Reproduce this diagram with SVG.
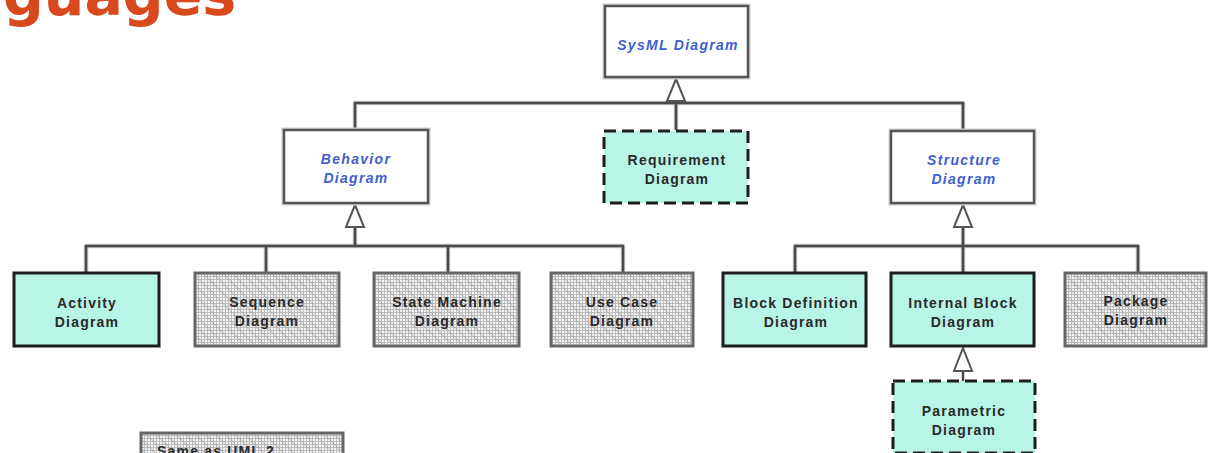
<svg xmlns="http://www.w3.org/2000/svg" width="1209" height="453" viewBox="0 0 1209 453">
  <defs>
    <style>
      .title { font-family: "DejaVu Sans", Verdana, sans-serif; font-weight: bold; font-size: 57px; fill: #d9491e; }
      .lbl { font-family: "Liberation Sans", Arial, sans-serif; font-weight: bold; font-size: 14px; letter-spacing: 1.2px; fill: #2a2a2a; text-anchor: middle; }
      .abs { font-family: "Liberation Sans", Arial, sans-serif; font-weight: bold; font-style: italic; font-size: 14px; letter-spacing: 1.3px; fill: #3f5fd0; text-anchor: middle; }
      .box-abstract { fill: #ffffff; stroke: #555555; stroke-width: 2.5; }
      .box-solid { fill: #b9f5e6; stroke: #1e1e1e; stroke-width: 3; }
      .box-dashed { fill: #b9f5e6; stroke: #1e1e1e; stroke-width: 3; stroke-dasharray: 12 6; }
      .box-uml { fill: url(#grid); stroke: #666666; stroke-width: 3; }
      .box-uml-diag { fill: url(#diag); stroke: none; }
      .halo { fill: none; stroke: #cfcfcf; stroke-width: 5; }
      .wire { fill: none; stroke: #4a4a4a; stroke-width: 2.5; stroke-linejoin: round; }
      .wire-halo { fill: none; stroke: #c8c8c8; stroke-width: 4.5; stroke-linejoin: round; }
      .gen { fill: #ffffff; stroke: #555555; stroke-width: 2; stroke-linejoin: miter; }
    </style>
    <!-- grey dotted grid used for the diagram kinds inherited from UML 2 -->
    <pattern id="grid" width="3" height="3" patternUnits="userSpaceOnUse">
      <rect width="3" height="3" fill="#f6f6f6"/>
      <rect width="3" height="1" fill="#bcbcbc"/>
      <rect width="1" height="3" fill="#bcbcbc"/>
    </pattern>
    <pattern id="diag" width="7" height="7" patternUnits="userSpaceOnUse" patternTransform="rotate(45)">
      <rect width="7" height="1.5" fill="#8a8a8a" opacity="0.3"/>
    </pattern>
  </defs>

  <rect width="1209" height="453" fill="#ffffff"/>

  <text class="title" x="3" y="15">guages</text>

  <!-- connectors: generalization buses and hollow triangle heads -->
  <g id="connectors">
    <path class="wire-halo" d="M355 130 V103 H963 V131 M676 100 V130"/>
    <path class="wire" d="M355 130 V103 H963 V131 M676 100 V130"/>
    <path class="wire-halo" d="M86 272 V246 H623 V272 M266 246 V272 M448 246 V272 M355 228 V246"/>
    <path class="wire" d="M86 272 V246 H623 V272 M266 246 V272 M448 246 V272 M355 228 V246"/>
    <path class="wire-halo" d="M795 272 V246 H1138 V272 M963 228 V272"/>
    <path class="wire" d="M795 272 V246 H1138 V272 M963 228 V272"/>
    <path class="wire" d="M963 372 V381"/>
    <polygon class="gen" points="676,79 685,101 667,101"/>
    <polygon class="gen" points="355,205 364,227 346,227"/>
    <polygon class="gen" points="963,205 972,227 954,227"/>
    <polygon class="gen" points="963,348 972,371 954,371"/>
  </g>

  <g id="sysml-diagram">
    <rect class="halo" x="605" y="6" width="143" height="71"/>
    <rect class="box-abstract" x="605" y="6" width="143" height="71"/>
    <text class="abs" x="678" y="50">SysML Diagram</text>
  </g>

  <g id="behavior-diagram">
    <rect class="halo" x="284" y="130" width="144" height="73"/>
    <rect class="box-abstract" x="284" y="130" width="144" height="73"/>
    <text class="abs" x="356" y="164">Behavior</text>
    <text class="abs" x="356" y="183">Diagram</text>
  </g>

  <g id="requirement-diagram">
    <rect class="box-dashed" x="604" y="131" width="144" height="72"/>
    <text class="lbl" x="677" y="165">Requirement</text>
    <text class="lbl" x="677" y="184">Diagram</text>
  </g>

  <g id="structure-diagram">
    <rect class="halo" x="891" y="131" width="143" height="72"/>
    <rect class="box-abstract" x="891" y="131" width="143" height="72"/>
    <text class="abs" x="964" y="165">Structure</text>
    <text class="abs" x="964" y="184">Diagram</text>
  </g>

  <g id="activity-diagram">
    <rect class="box-solid" x="14" y="273" width="145" height="73"/>
    <text class="lbl" x="87" y="308">Activity</text>
    <text class="lbl" x="87" y="327">Diagram</text>
  </g>

  <g id="sequence-diagram">
    <rect class="box-uml" x="195" y="273" width="144" height="73"/>
    <rect class="box-uml-diag" x="197" y="275" width="140" height="69"/>
    <text class="lbl" x="267" y="307">Sequence</text>
    <text class="lbl" x="267" y="326">Diagram</text>
  </g>

  <g id="state-machine-diagram">
    <rect class="box-uml" x="374" y="273" width="145" height="73"/>
    <rect class="box-uml-diag" x="376" y="275" width="141" height="69"/>
    <text class="lbl" x="447" y="307">State Machine</text>
    <text class="lbl" x="447" y="326">Diagram</text>
  </g>

  <g id="use-case-diagram">
    <rect class="box-uml" x="551" y="273" width="142" height="73"/>
    <rect class="box-uml-diag" x="553" y="275" width="138" height="69"/>
    <text class="lbl" x="622" y="307">Use Case</text>
    <text class="lbl" x="622" y="326">Diagram</text>
  </g>

  <g id="block-definition-diagram">
    <rect class="box-solid" x="723" y="273" width="143" height="73"/>
    <text class="lbl" x="796" y="308">Block Definition</text>
    <text class="lbl" x="796" y="327">Diagram</text>
  </g>

  <g id="internal-block-diagram">
    <rect class="box-solid" x="891" y="273" width="143" height="73"/>
    <text class="lbl" x="963" y="308">Internal Block</text>
    <text class="lbl" x="963" y="327">Diagram</text>
  </g>

  <g id="package-diagram">
    <rect class="box-uml" x="1065" y="273" width="141" height="73"/>
    <rect class="box-uml-diag" x="1067" y="275" width="137" height="69"/>
    <text class="lbl" x="1136" y="306">Package</text>
    <text class="lbl" x="1136" y="325">Diagram</text>
  </g>

  <g id="parametric-diagram">
    <rect class="box-dashed" x="893" y="381" width="142" height="72"/>
    <text class="lbl" x="964" y="416">Parametric</text>
    <text class="lbl" x="964" y="435">Diagram</text>
  </g>

  <g id="legend-same-as-uml2">
    <rect class="box-uml" x="141" y="433" width="202" height="30"/>
    <rect class="box-uml-diag" x="143" y="435" width="198" height="26"/>
    <text class="lbl" x="157" y="456" style="text-anchor: start">Same as UML 2</text>
  </g>
</svg>
